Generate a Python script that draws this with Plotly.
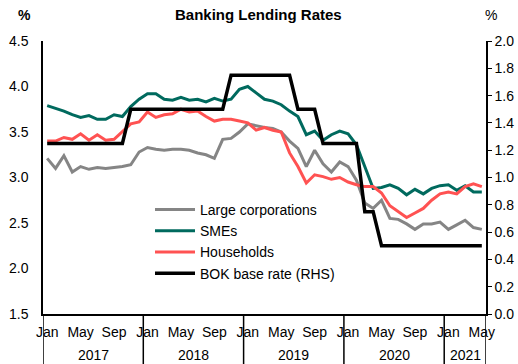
import plotly.graph_objects as go

months = ["Jan", "Feb", "Mar", "Apr", "May", "Jun", "Jul", "Aug", "Sep", "Oct", "Nov", "Dec"]
years = ["2017", "2018", "2019", "2020", "2021"]
periods = [f"{m} {y}" for y in years for m in months][:53]  # Jan 2017 .. May 2021
idx = list(range(len(periods)))

large_corp = [3.21, 3.10, 3.24, 3.06, 3.12, 3.09, 3.11, 3.10, 3.11, 3.12, 3.14, 3.28,
              3.33, 3.31, 3.30, 3.31, 3.31, 3.30, 3.27, 3.25, 3.21, 3.42, 3.43, 3.50,
              3.59, 3.57, 3.55, 3.54, 3.50, 3.40, 3.32, 3.12, 3.30, 3.15, 3.06, 3.17,
              3.12, 2.97, 2.72, 2.66, 2.75, 2.55, 2.54, 2.49, 2.43, 2.49, 2.49, 2.51,
              2.43, 2.48, 2.53, 2.45, 2.43]
smes = [3.79, 3.76, 3.73, 3.69, 3.66, 3.68, 3.64, 3.64, 3.69, 3.67, 3.78, 3.86,
        3.92, 3.92, 3.86, 3.85, 3.88, 3.85, 3.86, 3.83, 3.87, 3.84, 3.86, 3.97,
        4.00, 3.93, 3.86, 3.84, 3.80, 3.73, 3.67, 3.47, 3.51, 3.41, 3.47, 3.51,
        3.48, 3.36, 3.12, 2.88, 2.89, 2.92, 2.88, 2.81, 2.87, 2.82, 2.88, 2.91,
        2.92, 2.86, 2.91, 2.84, 2.84]
households = [3.40, 3.40, 3.44, 3.42, 3.48, 3.41, 3.47, 3.41, 3.42, 3.50, 3.59, 3.61,
              3.72, 3.66, 3.69, 3.70, 3.75, 3.72, 3.73, 3.67, 3.62, 3.64, 3.64, 3.62,
              3.60, 3.52, 3.55, 3.52, 3.50, 3.27, 3.12, 2.94, 3.03, 3.01, 2.98, 3.00,
              2.95, 2.92, 2.90, 2.90, 2.83, 2.69, 2.62, 2.56, 2.61, 2.66, 2.75, 2.82,
              2.84, 2.82, 2.90, 2.93, 2.90]
bok_rate = [1.25, 1.25, 1.25, 1.25, 1.25, 1.25, 1.25, 1.25, 1.25, 1.25, 1.50, 1.50,
            1.50, 1.50, 1.50, 1.50, 1.50, 1.50, 1.50, 1.50, 1.50, 1.50, 1.75, 1.75,
            1.75, 1.75, 1.75, 1.75, 1.75, 1.75, 1.50, 1.50, 1.50, 1.25, 1.25, 1.25,
            1.25, 1.25, 0.75, 0.75, 0.50, 0.50, 0.50, 0.50, 0.50, 0.50, 0.50, 0.50,
            0.50, 0.50, 0.50, 0.50, 0.50]

tick_idx = list(range(0, 53, 4))
tick_text = [periods[i].split(" ")[0] for i in tick_idx]

FONT = "Arial, Liberation Sans, sans-serif"
fig = go.Figure()
fig.add_trace(go.Scatter(x=idx, y=large_corp, name="Large corporations", mode="lines",
                         line=dict(color="#858585", width=3)))
fig.add_trace(go.Scatter(x=idx, y=smes, name="SMEs", mode="lines",
                         line=dict(color="#006A5E", width=3)))
fig.add_trace(go.Scatter(x=idx, y=households, name="Households", mode="lines",
                         line=dict(color="#FF5252", width=3)))
fig.add_trace(go.Scatter(x=idx, y=bok_rate, name="BOK base rate (RHS)", mode="lines",
                         line=dict(color="#000000", width=3.5), yaxis="y2"))

# year separators and labels
bounds = [-0.5, 11.5, 23.5, 35.5, 47.5, 52.5]
for b in bounds:
    fig.add_shape(type="line", xref="x", yref="paper", x0=b, x1=b, y0=0, y1=-50 / 273,
                  line=dict(color="black", width=1.5))
for k, y in enumerate(years):
    fig.add_annotation(x=(bounds[k] + bounds[k + 1]) / 2, xref="x", y=-41 / 273, yref="paper",
                       text=y, showarrow=False, font=dict(size=14, color="black", family=FONT),
                       yanchor="middle")

fig.add_annotation(text="<b>Banking Lending Rates</b>", xref="paper", yref="paper",
                   x=(258 - 43) / 443, y=(314 - 15) / 273, showarrow=False,
                   font=dict(size=15, color="black", family=FONT), yanchor="middle")
fig.add_annotation(text="<b>%</b>", xref="paper", yref="paper", x=(16 - 43) / 443,
                   y=(314 - 15) / 273, showarrow=False,
                   font=dict(size=14, color="black", family=FONT), yanchor="middle")
fig.add_annotation(text="%", xref="paper", yref="paper", x=(499 - 43) / 443,
                   y=(314 - 15) / 273, showarrow=False,
                   font=dict(size=14, color="black", family=FONT), yanchor="middle")

fig.update_layout(
    template="none",
    width=518, height=364,
    margin=dict(l=43, r=32, t=41, b=50, pad=0),
    paper_bgcolor="white", plot_bgcolor="white",
    font=dict(family=FONT, size=14, color="black"),
    showlegend=True,
    legend=dict(x=(150 - 43) / 443, y=(314 - 194) / 273, xanchor="left", yanchor="top",
                bgcolor="rgba(0,0,0,0)", font=dict(size=14, family=FONT), tracegroupgap=0,
                itemwidth=40),
    xaxis=dict(range=[-0.5, 52.5], tickmode="array", tickvals=tick_idx, ticktext=tick_text,
               showgrid=False, zeroline=False, showline=True, linecolor="black", linewidth=1.5,
               ticks="", ticklabelstandoff=4, tickfont=dict(size=14), automargin=False),
    yaxis=dict(range=[1.5, 4.5], dtick=0.5, tickformat=".1f", showgrid=False, zeroline=False,
               showline=True, linecolor="black", linewidth=1.5, ticks="",
               ticklabelstandoff=10, tickfont=dict(size=14), automargin=False),
    yaxis2=dict(range=[0, 2.0], dtick=0.2, tickformat=".1f", overlaying="y", side="right",
                showgrid=False, zeroline=False, showline=True, linecolor="black", linewidth=1.5,
                ticks="outside", ticklen=4, tickcolor="black", tickfont=dict(size=14),
                automargin=False),
)

fig.write_html("out.html", config={"displayModeBar": False},
               post_script="document.body.style.margin='0px';document.body.style.overflow='hidden';")
